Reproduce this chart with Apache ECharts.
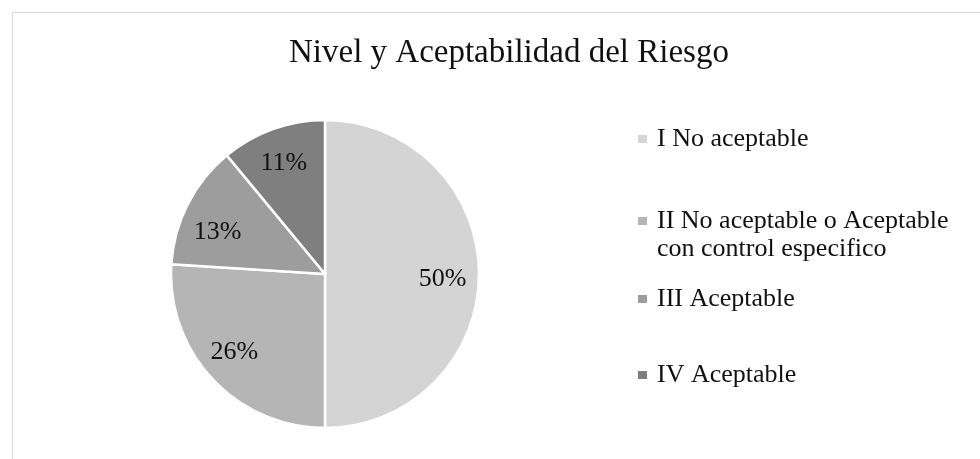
<!DOCTYPE html>
<html>
<head>
<meta charset="utf-8">
<script src="https://cdn.jsdelivr.net/npm/echarts@6/dist/echarts.min.js"></script>
<style>
  html, body { margin: 0; padding: 0; background: #fff; }
  #main { width: 980px; height: 459px; }
</style>
</head>
<body>
<div id="main"></div>
<script>
// datos del gráfico
const categorias = [
  "I No aceptable",
  "II No aceptable o Aceptable\ncon control especifico",
  "III Aceptable",
  "IV Aceptable"
];
const porcentajes = [50, 26, 13, 11];
const colores = ["#d4d4d4", "#b5b5b5", "#9d9d9d", "#7f7f7f"];

const fuente = "'Liberation Serif', 'Times New Roman', serif";
const centro = [325, 274];
const radio = 154;

// pequeños ajustes de las etiquetas (Excel usa "mejor ajuste")
const ajusteEtiquetas = [[-4, 5], [-2, -5], [1, 13], [0, 4]];

const datos = categorias.map((nombre, i) => ({
  name: nombre,
  value: porcentajes[i],
  itemStyle: { color: colores[i] }
}));

// una leyenda por elemento para reproducir el espaciado de Excel
const topsLeyenda = [125, 179, 285, 361];
const leyendas = categorias.map((nombre, i) => ({
  data: [nombre],
  orient: "vertical",
  left: 638,
  top: topsLeyenda[i],
  padding: 0,
  icon: "rect",
  itemWidth: 9,
  itemHeight: 8,
  selectedMode: false,
  itemStyle: { borderWidth: 0 },
  // el marcador va en la primera línea del texto de dos líneas
  formatter: (n) => (n.indexOf("\n") >= 0 ? "\n" + n : n),
  textStyle: {
    fontFamily: fuente,
    fontSize: 26,
    color: "#111",
    lineHeight: 28,
    padding: [0, 0, 0, 5]
  }
}));

const option = {
  backgroundColor: "#fff",
  animation: false,
  title: {
    text: "Nivel y Aceptabilidad del Riesgo",
    left: 289,
    top: 37,
    padding: 0,
    textStyle: {
      fontFamily: fuente,
      fontSize: 33,
      fontWeight: "normal",
      color: "#111"
    }
  },
  legend: leyendas,
  graphic: [
    {
      type: "rect",
      silent: true,
      shape: { x: 12.5, y: 12.5, width: 1000, height: 500 },
      style: { fill: "none", stroke: "#d9d9d9", lineWidth: 1 }
    }
  ],
  series: [
    {
      type: "pie",
      center: centro,
      radius: radio,
      startAngle: 90,
      clockwise: true,
      label: { show: false },
      labelLine: { show: false },
      itemStyle: { borderColor: "#fff", borderWidth: 2.5 },
      emphasis: { disabled: true },
      data: datos
    },
    {
      // serie transparente solo para colocar las etiquetas hacia el borde
      type: "pie",
      center: centro,
      radius: [radio * 0.54, radio],
      startAngle: 90,
      clockwise: true,
      silent: true,
      legendHoverLink: false,
      itemStyle: { color: "rgba(0,0,0,0)", borderWidth: 0 },
      label: {
        show: true,
        position: "inside",
        formatter: "{c}%",
        fontFamily: fuente,
        fontSize: 26,
        color: "#111"
      },
      labelLine: { show: false },
      emphasis: { disabled: true },
      data: categorias.map((nombre, i) => ({
        name: nombre,
        value: porcentajes[i],
        label: { offset: ajusteEtiquetas[i] }
      }))
    }
  ]
};

const chart = echarts.init(document.getElementById("main"));
chart.setOption(option);
</script>
</body>
</html>
